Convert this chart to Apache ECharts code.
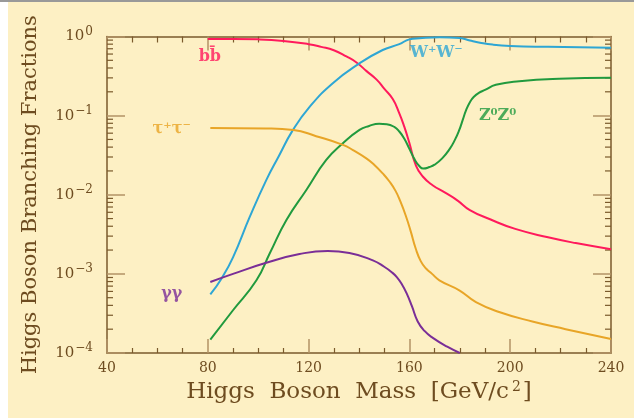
<!DOCTYPE html>
<html>
<head>
<meta charset="utf-8">
<title>Higgs Boson Branching Fractions</title>
<script src="https://cdn.jsdelivr.net/npm/echarts@6/dist/echarts.min.js"></script>
<style>
  html, body { margin: 0; padding: 0; background: #ffffff; }
  #frame { position: absolute; left: 0; top: 0; width: 634px; height: 2px; background: #999999; }
  #paper { position: absolute; left: 8px; top: 2px; width: 626px; height: 416px; background: #fdf0c4; }
  #chart { position: absolute; left: 0; top: 0; width: 634px; height: 418px; }
</style>
</head>
<body>
<div id="frame"></div>
<div id="paper"></div>
<div id="chart"></div>
<script>
// Higgs mass (GeV/c^2) and branching fraction for each decay channel
const massBB = [80, 90, 100, 110, 120, 125, 130, 135, 139, 143, 147, 150, 153.4, 156, 158, 160, 162.6, 165.3, 169.2, 174, 179, 184, 192, 202, 215, 226, 240];
const fracBB = [0.93, 0.93, 0.92, 0.88, 0.80, 0.74, 0.67, 0.56, 0.47, 0.365, 0.285, 0.219, 0.162, 0.107, 0.072, 0.045, 0.0234, 0.017, 0.0132, 0.0107, 0.0085, 0.0064, 0.0049, 0.0037, 0.0029, 0.00245, 0.00205];

const massWW = [81, 85.4, 90, 96.6, 103.2, 108, 113.8, 120.4, 129.6, 140.2, 149.4, 156, 160, 164, 172, 180, 184, 188, 193, 200, 215, 240];
const fracWW = [0.00055, 0.00087, 0.00162, 0.0052, 0.0153, 0.030, 0.066, 0.129, 0.257, 0.457, 0.675, 0.80, 0.92, 0.95, 0.977, 0.955, 0.89, 0.836, 0.79, 0.76, 0.74, 0.72];

const massZZ = [81, 90, 99.3, 104.6, 111.2, 119.1, 127, 133.6, 140.2, 144, 148, 151, 154, 156, 158, 160, 162, 164, 165.5, 168, 170, 173, 176, 178, 179.8, 181.1, 182.5, 184, 185.5, 187.7, 190, 194.3, 203.6, 219.4, 240];
const fracZZ = [0.000148, 0.000347, 0.00083, 0.00182, 0.0048, 0.0115, 0.0275, 0.0447, 0.066, 0.074, 0.079, 0.078, 0.072, 0.063, 0.051, 0.038, 0.0282, 0.0229, 0.0214, 0.0224, 0.024, 0.0288, 0.038, 0.049, 0.066, 0.087, 0.117, 0.148, 0.172, 0.195, 0.211, 0.245, 0.272, 0.292, 0.30];

const massTT = [81, 103, 114, 123, 133.6, 137.6, 142.9, 146, 149.4, 152, 154.5, 156.5, 158.5, 160.5, 162.5, 164.5, 166.6, 169, 171.9, 179.8, 186.4, 195.6, 208.8, 222, 240];
const fracTT = [0.070, 0.069, 0.066, 0.055, 0.0427, 0.0367, 0.0288, 0.024, 0.0186, 0.0148, 0.0112, 0.0081, 0.0055, 0.00347, 0.00209, 0.00145, 0.00117, 0.0010, 0.00083, 0.00062, 0.00044, 0.00033, 0.00025, 0.00020, 0.00015];

const massGG = [81, 90, 103.2, 116.4, 127.6, 136.2, 145.5, 150, 153, 155, 157, 159, 161, 163.3, 166, 169.3, 175, 180];
const fracGG = [0.00079, 0.0010, 0.00138, 0.00178, 0.00195, 0.00184, 0.00148, 0.00123, 0.00105, 0.00091, 0.00074, 0.00056, 0.00039, 0.00025, 0.00019, 0.000155, 0.00012, 0.00010];

// Channel names and where they are written on the chart
const channelNames = ['b\u0062\u0304', '\u03c4\u207a\u03c4\u207b', 'W\u207aW\u207b', 'Z\u2070Z\u2070', '\u03b3\u03b3'];
const labelMass = [80.8, 65.7, 170.7, 195, 65.7];
const labelFrac = [0.55, 0.069, 0.62, 0.10, 0.00056];

const exponentLabels = { '0.0001': '\u22124', '0.001': '\u22123', '0.01': '\u22122', '0.1': '\u22121', '1': '0' };

const colBB = '#ff1a5c', colWW = '#2ea6d4', colZZ = '#219a3e', colTT = '#e8a527', colGG = '#7a2e97';
const ink = '#6e4c20', axisInk = '#7a5a2c', majorTan = '#b39366';
const serif = '"DejaVu Serif", "Liberation Serif", serif';

const zip = (xs, ys) => xs.map((x, i) => [x, ys[i]]);

// minor decade ticks 2..9 x 10^k, drawn on both vertical axes
const minorVals = [];
for (let k = -4; k < 0; k++) for (let m = 2; m <= 9; m++) minorVals.push(m * Math.pow(10, k));

const chart = echarts.init(document.getElementById('chart'), null, { renderer: 'canvas' });

function curve(name, xs, ys, color) {
  return {
    name, type: 'line', data: zip(xs, ys), showSymbol: false, symbol: 'none',
    smooth: 0.5,
    lineStyle: { color, width: 2 }, z: 5, animation: false
  };
}

const labelColors = [colBB, colTT, colWW, colZZ, colGG];

chart.setOption({
  backgroundColor: 'transparent',
  animation: false,
  grid: { left: 107, right: 23, top: 36.5, bottom: 65 },
  xAxis: [{
    type: 'value', min: 40, max: 240, interval: 40,
    name: '{t|Higgs  Boson  Mass  [GeV/c}{s|2}{t|]}',
    nameLocation: 'middle', nameGap: 15,
    nameTextStyle: {
      rich: {
        t: { fontFamily: serif, fontSize: 23, color: ink },
        s: { fontFamily: serif, fontSize: 14, color: ink, verticalAlign: 'top', padding: [0, 2, 10, 3] }
      }
    },
    axisLine: { show: true, lineStyle: { color: axisInk, width: 1.5 } },
    axisTick: { show: true, inside: true, length: 14, lineStyle: { color: majorTan, width: 1.5 } },
    minorTick: { show: true, splitNumber: 4, length: 5, lineStyle: { color: axisInk, width: 1.2 } },
    axisLabel: { color: ink, fontFamily: serif, fontSize: 14, margin: 8 },
    splitLine: { show: false }
  }, {
    type: 'value', min: 40, max: 240, interval: 40, position: 'top',
    axisLine: { show: true, lineStyle: { color: axisInk, width: 1.5 } },
    axisTick: { show: true, inside: true, length: 14, lineStyle: { color: majorTan, width: 1.5 } },
    minorTick: { show: true, splitNumber: 4, length: 6, lineStyle: { color: axisInk, width: 1.2 } },
    axisLabel: { show: false }, splitLine: { show: false }
  }],
  yAxis: [{
    type: 'log', logBase: 10, min: 1e-4, max: 1,
    name: 'Higgs Boson Branching Fractions',
    nameLocation: 'middle', nameGap: 66, nameRotate: 90,
    nameTextStyle: { fontFamily: serif, fontSize: 21, color: ink },
    axisLine: { show: true, lineStyle: { color: axisInk, width: 1.5 } },
    axisTick: { show: true, inside: true, length: 18, lineStyle: { color: majorTan, width: 1.5 } },
    axisLabel: {
      margin: 14,
      formatter: v => '{b|10}{e|' + (exponentLabels[String(v)] || '') + '}',
      rich: {
        b: { fontFamily: serif, fontSize: 15, color: ink },
        e: { fontFamily: serif, fontSize: 12, color: ink, verticalAlign: 'top', padding: [0, 0, 10, 1] }
      }
    },
    splitLine: { show: false }
  }, {
    type: 'log', logBase: 10, min: 1e-4, max: 1, position: 'right',
    axisLine: { show: true, lineStyle: { color: axisInk, width: 1.5 } },
    axisTick: { show: true, inside: true, length: 18, lineStyle: { color: majorTan, width: 1.5 } },
    axisLabel: { show: false }, splitLine: { show: false }
  }],
  series: [
    {
      name: 'minor decade ticks', type: 'custom', animation: false, silent: true,
      data: minorVals.map(v => [40, v]),
      renderItem: (params, api) => {
        const v = api.value(1);
        const l = api.coord([40, v]);
        const r = api.coord([240, v]);
        const style = { stroke: axisInk, lineWidth: 1.2 };
        return {
          type: 'group', children: [
            { type: 'line', shape: { x1: l[0], y1: l[1], x2: l[0] + 6, y2: l[1] }, style },
            { type: 'line', shape: { x1: r[0], y1: r[1], x2: r[0] - 6, y2: r[1] }, style }
          ]
        };
      },
      z: 3
    },
    curve('bb', massBB, fracBB, colBB),
    curve('WW', massWW, fracWW, colWW),
    curve('ZZ', massZZ, fracZZ, colZZ),
    curve('tautau', massTT, fracTT, colTT),
    curve('gammagamma', massGG, fracGG, colGG),
    {
      name: 'channel labels', type: 'scatter', symbolSize: 0, silent: true, animation: false,
      data: channelNames.map((n, i) => ({
        value: [labelMass[i], labelFrac[i]],
        label: {
          show: true, position: 'inside', formatter: n,
          color: labelColors[i], fontFamily: serif, fontWeight: 'bold', fontSize: 16
        }
      })),
      z: 6
    }
  ]
});
</script>
</body>
</html>
